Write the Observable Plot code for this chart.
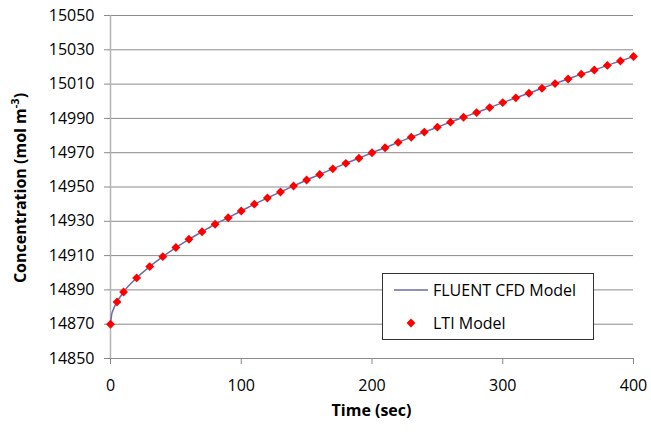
<!DOCTYPE html>
<html><head><meta charset="utf-8">
<script src="https://cdn.jsdelivr.net/npm/d3@7"></script>
<script src="https://cdn.jsdelivr.net/npm/@observablehq/plot@0.6"></script>
<style>
body{margin:0;background:#fff;font-family:"Open Sans",sans-serif}
#wrap{position:relative;width:651px;height:434px}
#legend{position:absolute;left:382px;top:273px;width:212px;height:67px;border:1.5px solid #333;background:#fff;box-sizing:border-box;font-size:16px;color:#000}
#legend .row{position:absolute;left:0;height:20px;display:flex;align-items:center}
#legend svg{display:block}
</style></head><body><div id="wrap"></div>
<script>
// Data
const ltiTimes = [0,5,10,20,30,40,50,60,70,80,90,100,110,120,130,140,150,160,170,180,190,200,210,220,230,240,250,260,270,280,290,300,310,320,330,340,350,360,370,380,390,400];
const ltiValues = [14870.0,14883.0,14888.8,14897.0,14903.6,14909.4,14914.7,14919.5,14923.9,14928.3,14932.1,14936.0,14940.0,14943.6,14947.1,14950.6,14954.1,14957.3,14960.6,14963.8,14966.8,14970.0,14972.9,14976.0,14979.0,14982.0,14984.9,14987.8,14990.7,14993.4,14996.3,14999.2,15002.0,15004.7,15007.6,15010.3,15013.0,15015.8,15018.2,15020.9,15023.5,15026.1];
const fluentTimes = [0,1,2,3,4,5,10,20,30,40,50,60,70,80,90,100,110,120,130,140,150,160,170,180,190,200,210,220,230,240,250,260,270,280,290,300,310,320,330,340,350,360,370,380,390,400];
const fluentValues = [14870.0,14876.0,14878.3,14880.1,14881.6,14883.0,14888.8,14897.0,14903.6,14909.4,14914.7,14919.5,14923.9,14928.3,14932.1,14936.0,14940.0,14943.6,14947.1,14950.6,14954.1,14957.3,14960.6,14963.8,14966.8,14970.0,14972.9,14976.0,14979.0,14982.0,14984.9,14987.8,14990.7,14993.4,14996.3,14999.2,15002.0,15004.7,15007.6,15010.3,15013.0,15015.8,15018.2,15020.9,15023.5,15026.1];
const xTicks = [0,100,200,300,400];
const yTicks = [14850,14870,14890,14910,14930,14950,14970,14990,15010,15030,15050];
const seriesNames = ["FLUENT CFD Model","LTI Model"];
const xTitle = "Time (sec)";
const yTitle = "Concentration (mol m";
const yTitleSup = "-3";

const lti = ltiTimes.map((t,i)=>({t, c: ltiValues[i]}));
const fluent = fluentTimes.map((t,i)=>({t, c: fluentValues[i]}));

const lineColor = "#6b6ba8";
const dotColor = "#ff0000";

const chart = Plot.plot({
  width: 651, height: 434,
  marginLeft: 110, marginRight: 18, marginTop: 15, marginBottom: 76,
  style: {fontFamily: '"Open Sans", sans-serif', fontSize: "16px", color: "#000", background: "#fff", overflow: "visible"},
  x: {domain: [0, 400], label: null},
  y: {domain: [14850, 15050], label: null},
  marks: [
    Plot.gridY(yTicks, {stroke: "#8a8a8a", strokeOpacity: 1, strokeWidth: 1}),
    Plot.ruleX([0], {stroke: "#b4b4b4", strokeWidth: 1.5}),
    Plot.axisY(yTicks, {tickSize: 6, tickPadding: 10, stroke: "#8a8a8a", label: null, tickFormat: d => String(d), fill: "#000"}),
    Plot.axisX(xTicks, {tickSize: 6, tickPadding: 15, stroke: "#8a8a8a", label: null, tickFormat: d => String(d), fill: "#000"}),
    Plot.line(fluent, {x: "t", y: "c", stroke: lineColor, strokeWidth: 1.5, curve: "monotone-x"}),
    Plot.dot(lti, {x: "t", y: "c", symbol: "diamond2", r: 4, fill: dotColor, stroke: "none"})
  ]
});

const svg = d3.select(chart);
svg.append("text")
  .attr("x", 371.5).attr("y", 416)
  .attr("text-anchor", "middle").attr("font-weight", "bold").attr("font-size", 16).attr("fill", "#000")
  .text(xTitle);
const yt = svg.append("text")
  .attr("transform", "translate(26,188) rotate(-90)")
  .attr("text-anchor", "middle").attr("font-weight", "bold").attr("font-size", 16).attr("fill", "#000");
yt.append("tspan").text(yTitle);
yt.append("tspan").attr("dy", -7).attr("font-size", 11).text(yTitleSup);
yt.append("tspan").attr("dy", 7).text(")");

const wrap = document.getElementById("wrap");
wrap.appendChild(chart);

const legend = document.createElement("div");
legend.id = "legend";
legend.innerHTML =
  `<div class="row" style="top:6px;left:10px"><svg width="36" height="20"><line x1="1" x2="35" y1="10" y2="10" stroke="${lineColor}" stroke-width="1.5"/></svg><span style="margin-left:4px">${seriesNames[0]}</span></div>` +
  `<div class="row" style="top:39px;left:10px"><svg width="36" height="20"><path d="M18,5.6L22.4,10L18,14.4L13.6,10Z" fill="${dotColor}"/></svg><span style="margin-left:4px">${seriesNames[1]}</span></div>`;
wrap.appendChild(legend);
</script></body></html>
